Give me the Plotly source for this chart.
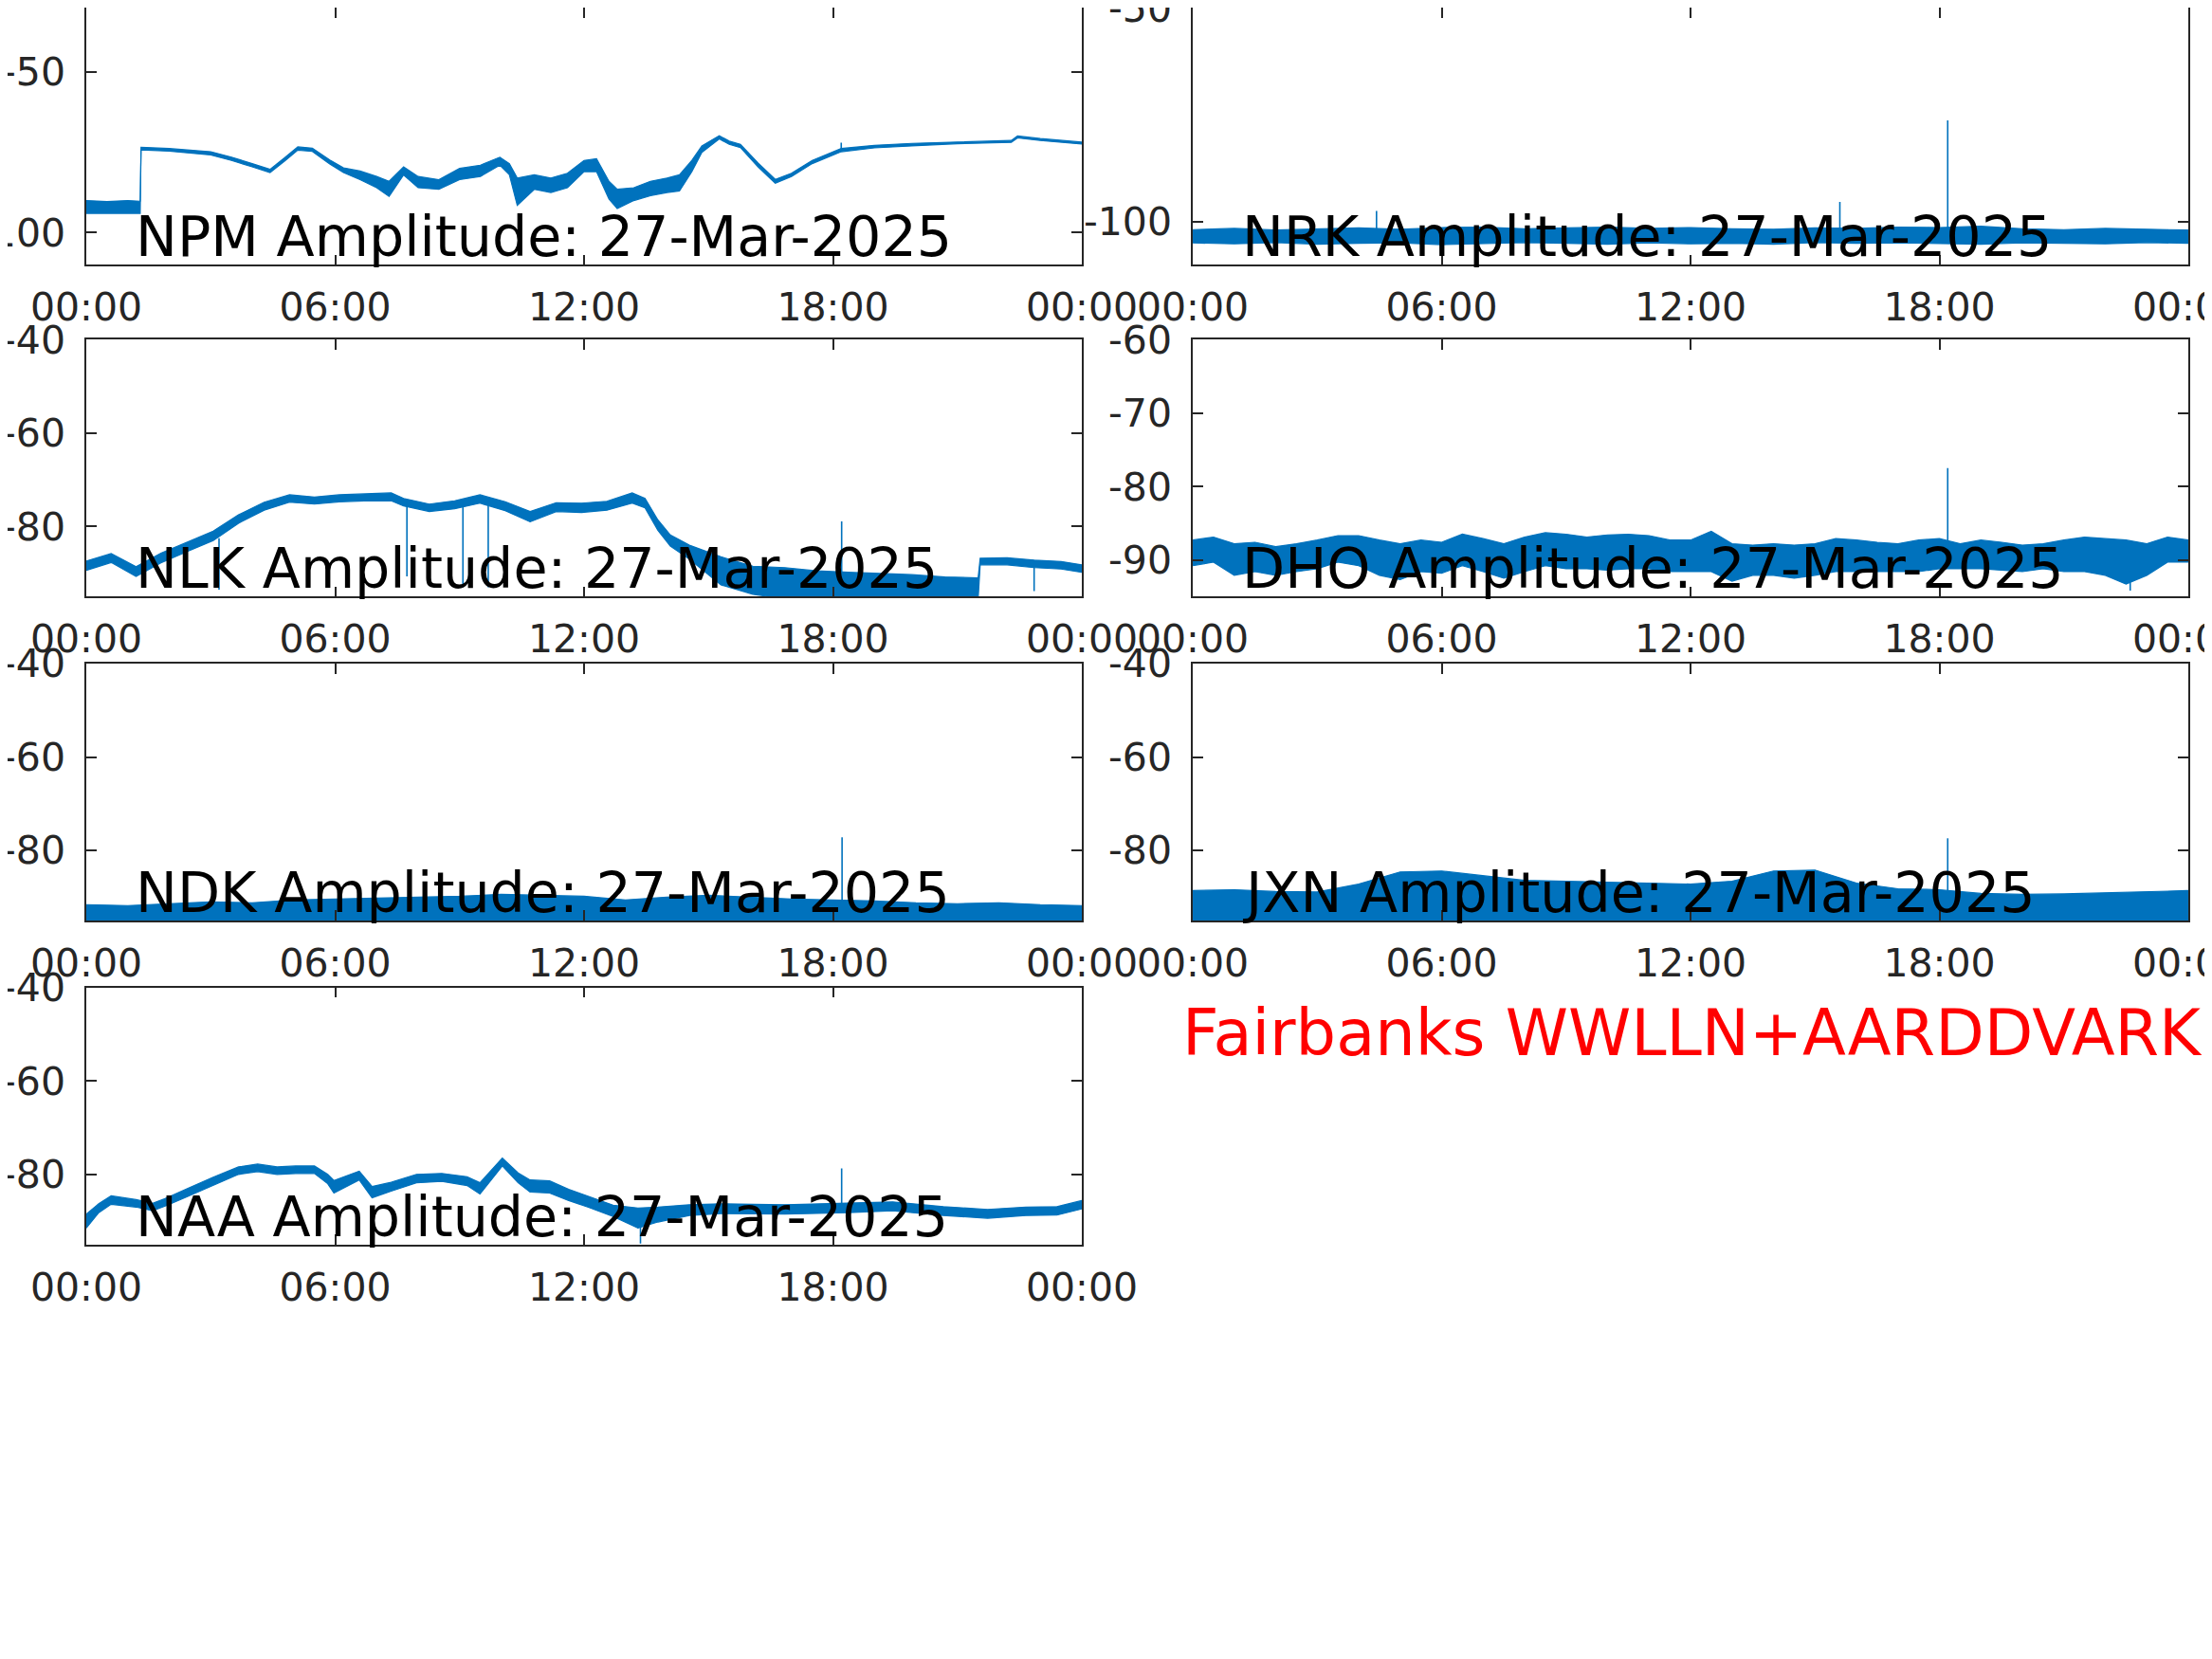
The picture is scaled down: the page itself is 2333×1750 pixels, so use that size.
import plotly.graph_objects as go

# ---------------- data (hours since 00:00 UTC, amplitude in dB) ----------------
DAY_TICKS = [0, 6, 12, 18, 24]
DAY_TICK_TEXT = ["00:00", "06:00", "12:00", "18:00", "00:00"]

HOURS_HALF = [0, 0.5, 1, 1.5, 2, 2.5, 3, 3.5, 4, 4.5, 5, 5.5, 6, 6.5, 7, 7.5, 8, 8.5,
              9, 9.5, 10, 10.5, 11, 11.5, 12, 12.5, 13, 13.5, 14, 14.5, 15, 15.5, 16,
              16.5, 17, 17.5, 18, 18.5, 19, 19.5, 20, 20.5, 21, 21.5, 22, 22.5, 23,
              23.5, 24]
HOURS_ONE = [0, 1, 2, 3, 4, 5, 6, 7, 8, 9, 10, 11, 12, 13, 14, 15, 16, 17, 18, 19,
             20, 21, 22, 23, 24]

# NPM
NPM_T = [0, 0.5, 1.0, 1.3, 1.32, 2.0, 3.0, 3.5, 4.0, 4.43, 4.8, 5.1, 5.45, 5.87, 6.2,
         6.6, 7.0, 7.3, 7.65, 8.0, 8.5, 9.0, 9.5, 9.97, 10.2, 10.39, 10.8, 11.2, 11.6,
         12.0, 12.3, 12.6, 12.8, 13.2, 13.6, 14.0, 14.3, 14.6, 14.84, 15.26, 15.5,
         15.77, 16.2, 16.61, 17.0, 17.5, 18.2, 19.0, 19.9, 21.0, 22.3, 22.45, 23.0, 24.0]
NPM_LO = [-94.0, -94.0, -94.2, -94.0, -74.2, -74.6, -75.8, -77.5, -79.5, -81.3, -77.5,
          -74.3, -74.7, -78.6, -81.3, -83.5, -86.0, -88.7, -82.0, -86.0, -86.5, -83.5,
          -82.5, -79.0, -82.0, -91.5, -86.5, -87.5, -86.0, -81.0, -81.0, -89.5, -92.5,
          -90.0, -88.5, -87.5, -87.0, -81.0, -75.0, -70.8, -72.5, -73.5, -79.6, -84.6,
          -82.5, -78.5, -74.8, -73.6, -73.0, -72.3, -71.9, -70.5, -71.3, -72.4]
NPM_HI = [-90.0, -90.3, -90.0, -90.2, -73.4, -73.8, -74.8, -76.5, -78.5, -80.3, -76.5,
          -73.3, -73.7, -77.4, -79.8, -80.8, -82.5, -84.0, -79.5, -82.5, -83.5, -80.0,
          -79.0, -76.5, -78.5, -83.0, -82.0, -83.0, -81.5, -77.5, -77.0, -84.0, -86.5,
          -86.0, -84.0, -83.0, -82.0, -77.5, -73.0, -69.8, -71.5, -72.5, -78.4, -83.4,
          -81.5, -77.5, -73.8, -72.8, -72.2, -71.7, -71.3, -69.9, -70.7, -71.8]
NPM_SPIKE_T = [18.2]
NPM_SPIKE_BASE = [-74.3]
NPM_SPIKE_PEAK = [-72.0]

# NRK
NRK_HI = [-101.8, -101.5, -101.9, -101.6, -101.4, -101.7, -101.3, -101.2, -101.6,
          -101.4, -101.2, -101.5, -101.3, -101.6, -101.7, -101.4, -101.5, -101.2,
          -101.3, -101.0, -101.6, -101.8, -101.5, -101.7, -101.9]
NRK_LO = [-104.9, -105.1, -104.8, -105.2, -105.0, -104.9, -105.3, -105.1, -104.8,
          -105.0, -105.2, -104.9, -105.1, -105.0, -105.2, -104.8, -105.0, -104.9,
          -105.1, -105.2, -104.9, -105.0, -105.1, -104.8, -105.0]
NRK_SPIKE_T = [4.43, 15.6, 18.2]
NRK_SPIKE_BASE = [-102.0, -102.0, -102.0]
NRK_SPIKE_PEAK = [-97.4, -95.3, -76.3]

# NLK
NLK_T = [0, 0.6, 1.2, 1.8, 2.45, 3.06, 3.67, 4.29, 4.9, 5.5, 6.1, 6.7, 7.35, 7.65, 8.27,
         8.88, 9.49, 10.1, 10.7, 11.33, 11.94, 12.55, 13.16, 13.47, 13.78, 14.08, 14.54,
         15.3, 16.07, 16.84, 17.6, 18.37, 19.1, 19.9, 20.7, 21.5, 21.55, 22.2, 22.85,
         23.5, 24.0]
NLK_LO = [-89.4, -87.7, -90.7, -87.8, -85.3, -83.0, -79.3, -76.5, -74.8, -75.2, -74.7,
          -74.5, -74.5, -75.6, -76.8, -76.2, -75.0, -76.6, -79.0, -76.8, -77.0, -76.5,
          -75.0, -76.0, -80.8, -84.2, -87.0, -92.5, -94.5, -95.5, -95.5, -95.5, -95.5,
          -95.5, -95.5, -95.5, -88.2, -88.2, -88.8, -89.1, -89.8]
NLK_HI = [-87.4, -85.8, -88.6, -85.7, -83.3, -81.0, -77.5, -74.8, -73.2, -73.7, -73.2,
          -73.0, -72.8, -74.0, -75.2, -74.5, -73.2, -74.7, -76.8, -74.9, -75.0, -74.6,
          -72.8, -74.0, -78.6, -81.8, -84.0, -86.5, -88.5, -88.8, -89.5, -89.8, -90.0,
          -90.3, -90.8, -91.0, -86.8, -86.7, -87.2, -87.5, -88.2]
NLK_SPIKE_T = [3.2, 7.73, 9.08, 9.69, 18.21, 22.85]
NLK_SPIKE_BASE = [-82.5, -74.6, -75.0, -74.5, -91.0, -87.5]
NLK_SPIKE_PEAK = [-93.5, -90.7, -93.0, -93.0, -78.9, -93.8]

# DHO
DHO_HI = [-87.3, -86.9, -87.8, -87.6, -88.2, -87.8, -87.3, -86.7, -86.7, -87.3, -87.8,
          -87.3, -87.6, -86.5, -87.1, -87.8, -86.9, -86.3, -86.5, -86.9, -86.6, -86.5,
          -86.7, -87.3, -87.3, -86.1, -87.8, -88.0, -87.8, -88.0, -87.8, -87.1, -87.3,
          -87.6, -87.8, -87.3, -87.1, -87.8, -87.3, -87.6, -88.0, -87.8, -87.3, -86.9,
          -87.1, -87.3, -87.8, -86.9, -87.3]
DHO_LO = [-90.8, -90.3, -92.1, -91.6, -92.1, -91.6, -91.2, -90.3, -90.8, -92.1, -92.7,
          -91.6, -91.8, -90.8, -91.6, -92.5, -91.6, -90.8, -91.2, -91.2, -91.4, -91.2,
          -91.2, -91.6, -91.6, -91.6, -92.9, -92.1, -92.1, -92.5, -92.1, -91.6, -91.6,
          -91.6, -91.6, -91.6, -91.2, -91.2, -91.2, -91.4, -91.6, -91.2, -91.6, -91.6,
          -92.1, -93.3, -92.1, -90.3, -90.3]
DHO_SPIKE_T = [18.2, 22.6]
DHO_SPIKE_BASE = [-88.0, -91.5]
DHO_SPIKE_PEAK = [-77.5, -94.2]

# NDK
NDK_HI = [-91.6, -91.8, -91.4, -91.0, -91.2, -90.6, -90.4, -90.2, -90.0, -89.8, -89.4,
          -89.6, -89.8, -90.6, -90.0, -89.6, -90.0, -90.4, -90.6, -90.8, -91.2, -91.4,
          -91.2, -91.6, -91.8]
NDK_LO = [-95.5, -95.5, -95.5, -95.5, -95.5, -95.5, -95.5, -95.5, -95.5, -95.5, -95.5,
          -95.5, -95.5, -95.5, -95.5, -95.5, -95.5, -95.5, -95.5, -95.5, -95.5, -95.5,
          -95.5, -95.5, -95.5]
NDK_SPIKE_T = [18.22]
NDK_SPIKE_BASE = [-91.0]
NDK_SPIKE_PEAK = [-77.2]

# JXN
JXN_HI = [-88.6, -88.4, -88.8, -88.9, -87.2, -84.6, -84.4, -85.4, -86.4, -86.6, -86.8,
          -87.0, -87.2, -86.6, -84.4, -84.2, -87.0, -88.2, -88.4, -89.2, -89.4, -89.3,
          -89.1, -88.8, -88.6]
JXN_LO = [-95.5, -95.5, -95.5, -95.5, -95.5, -95.5, -95.5, -95.5, -95.5, -95.5, -95.5,
          -95.5, -95.5, -95.5, -95.5, -95.5, -95.5, -95.5, -95.5, -95.5, -95.5, -95.5,
          -95.5, -95.5, -95.5]
JXN_SPIKE_T = [18.2]
JXN_SPIKE_BASE = [-89.0]
JXN_SPIKE_PEAK = [-77.4]

# NAA
NAA_T = [0, 0.3, 0.6, 1.2, 1.6, 1.9, 2.45, 3.06, 3.67, 4.13, 4.6, 5.05, 5.5, 5.82, 5.97,
         6.58, 6.89, 7.35, 7.96, 8.57, 9.18, 9.49, 10.03, 10.41, 10.7, 11.17, 11.63,
         12.09, 12.7, 13.3, 13.78, 14.54, 15.3, 16.84, 18.37, 19.44, 20.66, 21.73, 22.65,
         23.4, 24.0]
NAA_LO = [-91.5, -88.2, -86.4, -87.0, -87.8, -86.8, -84.7, -82.3, -80.0, -79.4, -80.0,
          -79.8, -79.8, -82.0, -84.0, -81.2, -85.0, -83.6, -81.8, -81.5, -82.4, -84.2,
          -78.2, -81.8, -83.8, -84.0, -85.6, -87.0, -89.0, -91.5, -90.2, -88.8, -88.4,
          -88.5, -88.2, -87.8, -88.8, -89.4, -88.8, -88.7, -87.4]
NAA_HI = [-88.5, -86.3, -84.6, -85.4, -86.2, -85.2, -83.0, -80.6, -78.4, -77.8, -78.4,
          -78.2, -78.2, -80.0, -81.3, -79.3, -82.6, -81.7, -80.0, -79.8, -80.5, -81.8,
          -76.5, -79.7, -81.2, -81.4, -83.2, -84.6, -86.6, -87.2, -87.0, -86.5, -86.3,
          -86.5, -86.2, -85.9, -86.9, -87.5, -87.0, -86.9, -85.6]
NAA_SPIKE_T = [13.36, 18.21]
NAA_SPIKE_BASE = [-89.0, -87.2]
NAA_SPIKE_PEAK = [-94.8, -78.7]

# ---------------- panels ----------------
DATE_LABEL = "27-Mar-2025"
FOOTER = "Fairbanks WWLLN+AARDDVARK"

W, H = 2333, 1750
OFF = 8  # page body margin the figure sits inside
BLUE = "#0072BD"
AX = "#262626"
FONT = "DejaVu Sans"

COL_X = [(91, 1141), (1258, 2308)]
ROW_Y = [(8.3, 279.3), (358.3, 629.3), (700, 971), (1041.7, 1312.7)]

panels = [
    dict(name="NPM", t=NPM_T, lo=NPM_LO, hi=NPM_HI, st=NPM_SPIKE_T, sb=NPM_SPIKE_BASE,
         sp=NPM_SPIKE_PEAK, yr=[-110, -30], yt=[-100, -50]),
    dict(name="NRK", t=HOURS_ONE, lo=NRK_LO, hi=NRK_HI, st=NRK_SPIKE_T, sb=NRK_SPIKE_BASE,
         sp=NRK_SPIKE_PEAK, yr=[-110, -49.99], yt=[-100, -50]),
    dict(name="NLK", t=NLK_T, lo=NLK_LO, hi=NLK_HI, st=NLK_SPIKE_T, sb=NLK_SPIKE_BASE,
         sp=NLK_SPIKE_PEAK, yr=[-95, -40], yt=[-80, -60, -40]),
    dict(name="DHO", t=HOURS_HALF, lo=DHO_LO, hi=DHO_HI, st=DHO_SPIKE_T, sb=DHO_SPIKE_BASE,
         sp=DHO_SPIKE_PEAK, yr=[-95, -60], yt=[-90, -80, -70, -60]),
    dict(name="NDK", t=HOURS_ONE, lo=NDK_LO, hi=NDK_HI, st=NDK_SPIKE_T, sb=NDK_SPIKE_BASE,
         sp=NDK_SPIKE_PEAK, yr=[-95, -40], yt=[-80, -60, -40]),
    dict(name="JXN", t=HOURS_ONE, lo=JXN_LO, hi=JXN_HI, st=JXN_SPIKE_T, sb=JXN_SPIKE_BASE,
         sp=JXN_SPIKE_PEAK, yr=[-95, -40], yt=[-80, -60, -40]),
    dict(name="NAA", t=NAA_T, lo=NAA_LO, hi=NAA_HI, st=NAA_SPIKE_T, sb=NAA_SPIKE_BASE,
         sp=NAA_SPIKE_PEAK, yr=[-95, -40], yt=[-80, -60, -40]),
]


def px(v):
    return (v - OFF) / W


def py(v):
    return 1 - (v - OFF) / H


fig = go.Figure()
layout = dict(
    width=W, height=H, margin=dict(l=0, r=0, t=0, b=0, autoexpand=False),
    paper_bgcolor="white", plot_bgcolor="white", showlegend=False,
    font=dict(family=FONT, color=AX),
)
annotations = []

for i, p in enumerate(panels):
    row, col = divmod(i, 2)
    x0, x1 = COL_X[col]
    y0, y1 = ROW_Y[row]
    n = i + 1
    xa = "x" if n == 1 else f"x{n}"
    ya = "y" if n == 1 else f"y{n}"
    xkey = "xaxis" if n == 1 else f"xaxis{n}"
    ykey = "yaxis" if n == 1 else f"yaxis{n}"

    common = dict(showline=True, linecolor=AX, linewidth=1.5, mirror="ticks",
                  ticks="inside", ticklen=11, tickwidth=1.5, tickcolor=AX,
                  showgrid=False, zeroline=False, automargin=False,
                  ticklabeloverflow="allow",
                  tickfont=dict(family=FONT, size=41, color=AX))
    layout[xkey] = dict(common, domain=[px(x0), px(x1)], anchor=ya, range=[0, 24],
                        tickmode="array", tickvals=DAY_TICKS, ticktext=DAY_TICK_TEXT,
                        ticklabelstandoff=8)
    layout[ykey] = dict(common, domain=[py(y1), py(y0)], anchor=xa,
                        range=p["yr"], tickmode="array", tickvals=p["yt"],
                        ticktext=[str(v) for v in p["yt"]], ticklabelstandoff=12)

    fig.add_trace(go.Scatter(x=p["t"], y=p["lo"], mode="lines",
                             line=dict(color=BLUE, width=1.2), xaxis=xa, yaxis=ya,
                             hoverinfo="skip"))
    fig.add_trace(go.Scatter(x=p["t"], y=p["hi"], mode="lines", fill="tonexty",
                             fillcolor=BLUE, line=dict(color=BLUE, width=1.2),
                             xaxis=xa, yaxis=ya, hoverinfo="skip"))
    sx, sy = [], []
    for t, b, pk in zip(p["st"], p["sb"], p["sp"]):
        sx += [t, t, None]
        sy += [b, pk, None]
    fig.add_trace(go.Scatter(x=sx, y=sy, mode="lines", line=dict(color=BLUE, width=1.6),
                             xaxis=xa, yaxis=ya, hoverinfo="skip"))

    base = y1 - 8
    annotations.append(dict(text=f"{p['name']} Amplitude: {DATE_LABEL}", xref="paper",
                            yref="paper", x=px(x0 + 50), y=py(base + 14.8),
                            xanchor="left", yanchor="bottom", showarrow=False,
                            font=dict(family=FONT, size=58.7, color="black")))

annotations.append(dict(text=FOOTER, xref="paper", yref="paper", x=px(1245),
                        y=py(1114 + 16.8), xanchor="left", yanchor="bottom",
                        showarrow=False, font=dict(family=FONT, size=67, color="red")))
layout["annotations"] = annotations
fig.update_layout(**layout)
fig.write_html("out.html")
